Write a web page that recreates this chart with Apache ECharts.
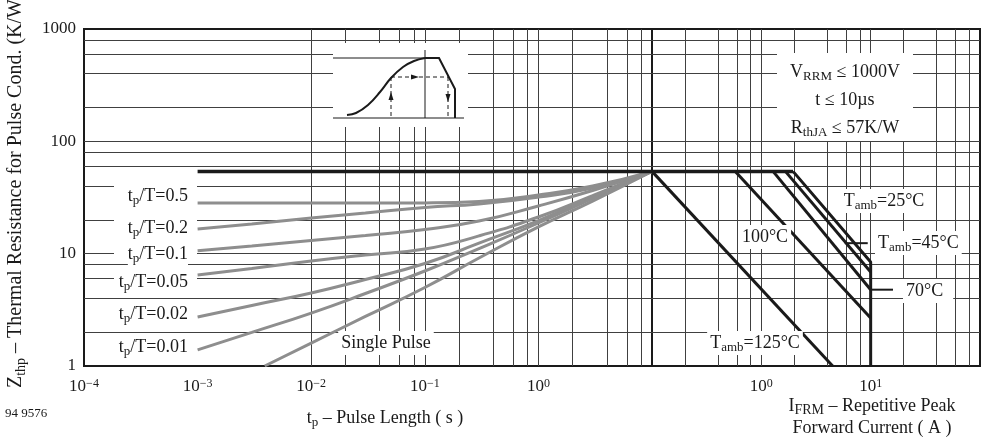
<!DOCTYPE html>
<html>
<head>
<meta charset="utf-8">
<script src="https://cdn.jsdelivr.net/npm/echarts@6/dist/echarts.min.js"></script>
<style>
  html, body { margin: 0; padding: 0; background: #fff; }
  #chart { width: 983px; height: 439px; }
</style>
</head>
<body>
<div id="chart"></div>
<script>
// ---- data ----
// left panel: x = tp (s), y = Zthp (K/W)
var plateauLeft = [[0.001, 54], [10, 54]]
var duty05 = [[0.001, 28.2], [0.003, 28.2], [0.01, 28.2], [0.03, 28.2], [0.1, 28.3], [0.3, 29.1], [1, 33.3], [3, 40.0], [10, 54]]
var duty02 = [[0.001, 16.6], [0.003, 18.4], [0.01, 20.8], [0.03, 23.0], [0.1, 25.8], [0.3, 27.7], [1, 31.9], [3, 38.4], [10, 54]]
var duty01 = [[0.001, 10.6], [0.003, 11.7], [0.01, 13.1], [0.03, 14.5], [0.1, 16.4], [0.3, 19.5], [1, 26.6], [3, 36.5], [10, 54]]
var duty005 = [[0.001, 6.46], [0.003, 7.38], [0.01, 8.6], [0.03, 9.73], [0.1, 11.0], [0.3, 14.4], [1, 21.2], [3, 32.9], [10, 54]]
var duty002 = [[0.001, 2.73], [0.003, 3.46], [0.01, 4.47], [0.03, 5.89], [0.1, 8.17], [0.3, 12.4], [1, 19.7], [3, 31.9], [10, 54]]
var duty001 = [[0.001, 1.39], [0.003, 1.99], [0.01, 2.96], [0.03, 4.42], [0.1, 7.01], [0.3, 11.1], [1, 18.75], [3, 31.0], [10, 54]]
var singlePulse = [[0.0039, 1], [0.01, 1.6], [0.03, 2.76], [0.1, 5.0], [0.3, 9.15], [1, 17.3], [3, 29.4], [10, 54]]

// right panel: x = IFRM (A), y = Zthp (K/W)
var plateauRight = [[0.1, 54], [1.95, 54]]
var tamb25 = [[1.95, 54], [10, 8.43], [10, 1]]
var tamb45 = [[1.66, 54], [10, 6.87]]
var tamb70 = [[1.28, 54], [10, 4.78]]
var tamb100 = [[0.578, 54], [10, 2.67]]
var tamb125 = [[0.1, 54], [4.49, 1]]
var leader45 = [[5.8, 12.4], [9.4, 12.4]]
var leader70 = [[10, 4.78], [16, 4.78]]

// log paper rulings (1, 2, 4, 6, 8 per decade)
var rulingSteps = [1, 2, 4, 6, 8]
var tpDecades = [-4, -3, -2, -1, 0]
var ifrmDecades = [-1, 0, 1]
var zDecades = [0, 1, 2]

function rulings(decades, lo, hi) {
  var res = []
  decades.forEach(function (d) {
    rulingSteps.forEach(function (s) {
      var v = s * Math.pow(10, d)
      if (v > lo * 1.0001 && v < hi * 0.9999) res.push(v)
    })
  })
  return res
}

var FONT = 'Liberation Serif'
var INK = '#1a1a1a'
var GREY = '#8e8e8e'

function expLabel(v) {
  var e = Math.round(Math.log10(v))
  return '10{sup|' + (e < 0 ? '\u2212' + (-e) : e) + '}'
}

var supRich = {
  sup: { fontSize: 12, fontFamily: FONT, color: INK, verticalAlign: 'top', lineHeight: 12 }
}

function gridLines(xs, ys) {
  return {
    silent: true,
    symbol: 'none',
    animation: false,
    label: { show: false },
    emphasis: { disabled: true },
    lineStyle: { color: '#404040', width: 1, type: 'solid' },
    data: xs.map(function (v) { return { xAxis: v } }).concat(ys.map(function (v) { return { yAxis: v } }))
  }
}

function curve(name, data, xi, color, width, smooth) {
  return {
    name: name,
    type: 'line',
    xAxisIndex: xi,
    yAxisIndex: xi,
    data: data,
    symbol: 'none',
    smooth: smooth ? 0.5 : false,
    lineStyle: { color: color, width: width },
    z: 5,
    silent: true
  }
}

function label(text, x, y, align, pad) {
  return {
    type: 'text',
    x: x,
    y: y,
    z: 110,
    style: {
      text: text,
      align: align || 'center',
      verticalAlign: 'middle',
      font: '18px "' + FONT + '"',
      fill: INK,
      backgroundColor: '#fff',
      padding: pad || [1, 3, 1, 3],
      lineHeight: 22,
      rich: {
        sub: { fontSize: 13, fontFamily: FONT, fill: INK, verticalAlign: 'bottom', lineHeight: 13 }
      }
    }
  }
}

function whiteBox(x, y, w, h) {
  return { type: 'rect', z: 100, shape: { x: x, y: y, width: w, height: h }, style: { fill: '#fff' } }
}

function seg(x1, y1, x2, y2, w, dash) {
  return {
    type: 'line', z: 105,
    shape: { x1: x1, y1: y1, x2: x2, y2: y2 },
    style: { stroke: INK, lineWidth: w || 1, lineDash: dash || null }
  }
}

var chart = echarts.init(document.getElementById('chart'))

chart.setOption({
  animation: false,
  textStyle: { fontFamily: FONT, color: INK },
  grid: [
    { left: 84, top: 29, width: 568, height: 337, show: true, borderColor: INK, borderWidth: 2, backgroundColor: 'transparent' },
    { left: 652, top: 29, right: -10, height: 337, show: true, borderColor: INK, borderWidth: 2, backgroundColor: 'transparent' }
  ],
  xAxis: [
    {
      type: 'log', logBase: 10, min: 1e-4, max: 10, gridIndex: 0,
      axisLine: { show: false }, axisTick: { show: false }, splitLine: { show: false },
      axisLabel: {
        margin: 12,
        formatter: function (v) {
          if (Math.round(Math.log10(v)) > 0) return ''
          return expLabel(v)
        },
        fontSize: 17, color: INK, rich: supRich
      }
    },
    {
      type: 'log', logBase: 10, min: 0.1, max: 100, gridIndex: 1,
      axisLine: { show: false }, axisTick: { show: false }, splitLine: { show: false },
      axisLabel: {
        margin: 12,
        formatter: function (v) {
          var e = Math.round(Math.log10(v))
          if (e < 0 || e > 1) return ''
          return expLabel(v)
        },
        fontSize: 17, color: INK, rich: supRich
      }
    }
  ],
  yAxis: [
    {
      type: 'log', logBase: 10, min: 1, max: 1000, gridIndex: 0,
      axisLine: { show: false }, axisTick: { show: false }, splitLine: { show: false },
      axisLabel: { margin: 8, fontSize: 17, color: INK, formatter: function (v) { return String(Math.round(v)) } }
    },
    {
      type: 'log', logBase: 10, min: 1, max: 1000, gridIndex: 1,
      axisLine: { show: false }, axisTick: { show: false }, splitLine: { show: false },
      axisLabel: { show: false }
    }
  ],
  series: [
    {
      type: 'line', xAxisIndex: 0, yAxisIndex: 0, data: [], symbol: 'none', z: 1, silent: true,
      markLine: gridLines(rulings(tpDecades, 1e-4, 10), rulings(zDecades, 1, 1000))
    },
    {
      type: 'line', xAxisIndex: 1, yAxisIndex: 1, data: [], symbol: 'none', z: 1, silent: true,
      markLine: gridLines(rulings(ifrmDecades, 0.1, 100), rulings(zDecades, 1, 1000))
    },
    curve('0.5', duty05, 0, GREY, 3, true),
    curve('0.2', duty02, 0, GREY, 3, true),
    curve('0.1', duty01, 0, GREY, 3, true),
    curve('0.05', duty005, 0, GREY, 3, true),
    curve('0.02', duty002, 0, GREY, 3, true),
    curve('0.01', duty001, 0, GREY, 3, true),
    curve('Single Pulse', singlePulse, 0, GREY, 3, true),
    curve('plateau', plateauLeft, 0, INK, 3.5, false),
    curve('plateauR', plateauRight, 1, INK, 3.5, false),
    curve('25', tamb25, 1, INK, 3, false),
    curve('45', tamb45, 1, INK, 3, false),
    curve('70', tamb70, 1, INK, 3, false),
    curve('100', tamb100, 1, INK, 3, false),
    curve('125', tamb125, 1, INK, 3, false),
    curve('lead45', leader45, 1, INK, 2, false),
    curve('lead70', leader70, 1, INK, 2, false)
  ],
  graphic: [
    // pulse shape inset
    whiteBox(333, 43, 135, 84),
    seg(333, 58, 438, 58, 1),
    seg(333, 118, 464, 118, 1),
    seg(425, 50, 425, 118, 1),
    seg(391, 77, 448, 77, 1, [4, 3]),
    seg(391, 77, 391, 118, 1, [4, 3]),
    seg(448, 77, 448, 118, 1, [4, 3]),
    {
      type: 'polyline', z: 106,
      shape: { points: [[347, 115], [356, 113], [368, 105], [380, 92], [391, 78], [403, 67], [414, 61], [425, 58]], smooth: 0.4 },
      style: { stroke: INK, lineWidth: 2, fill: null }
    },
    {
      type: 'polyline', z: 106,
      shape: { points: [[425, 58], [439, 58], [455, 89], [455, 118]] },
      style: { stroke: INK, lineWidth: 2, fill: null }
    },
    { type: 'polygon', z: 106, shape: { points: [[411, 74.5], [419, 77], [411, 79.5]] }, style: { fill: INK } },
    { type: 'polygon', z: 106, shape: { points: [[388.5, 100], [391, 92], [393.5, 100]] }, style: { fill: INK } },
    { type: 'polygon', z: 106, shape: { points: [[445.5, 94], [448, 102], [450.5, 94]] }, style: { fill: INK } },

    // conditions box
    whiteBox(777, 53, 136, 88),
    label('V{sub|RRM} \u2264 1000V', 845, 72),
    label('t \u2264 10\u00b5s', 845, 100),
    label('R{sub|thJA} \u2264 57K/W', 845, 128),

    // duty cycle labels
    whiteBox(114, 186, 83, 20),
    whiteBox(114, 218, 83, 20),
    whiteBox(114, 244, 83, 20),
    whiteBox(114, 272, 83, 21),
    whiteBox(114, 304, 83, 21),
    whiteBox(114, 337, 83, 21),
    label('t{sub|p}/T=0.5', 188, 196, 'right', [0, 0, 0, 0]),
    label('t{sub|p}/T=0.2', 188, 228, 'right', [0, 0, 0, 0]),
    label('t{sub|p}/T=0.1', 188, 254, 'right', [0, 0, 0, 0]),
    label('t{sub|p}/T=0.05', 188, 282, 'right', [0, 0, 0, 0]),
    label('t{sub|p}/T=0.02', 188, 314, 'right', [0, 0, 0, 0]),
    label('t{sub|p}/T=0.01', 188, 347, 'right', [0, 0, 0, 0]),
    label('Single Pulse', 386, 343),

    // ambient temperature labels
    label('T{sub|amb}=25\u00b0C', 884, 201),
    label('T{sub|amb}=45\u00b0C', 875, 243, 'left'),
    label('100\u00b0C', 765, 237),
    label('70\u00b0C', 903, 291, 'left', [1, 10, 1, 3]),
    label('T{sub|amb}=125\u00b0C', 755, 343),

    // axis titles
    {
      type: 'text', x: 16, y: 388, rotation: Math.PI / 2, z: 110,
      style: {
        text: 'Z{sub|thp} \u2013 Thermal Resistance for Pulse Cond. (K/W)',
        align: 'left', verticalAlign: 'middle',
        font: '20px "' + FONT + '"', fill: INK, lineHeight: 24,
        rich: { sub: { fontSize: 14, fontFamily: FONT, fill: INK, verticalAlign: 'bottom', lineHeight: 14 } }
      }
    },
    {
      type: 'text', x: 385, y: 418, z: 110,
      style: {
        text: 't{sub|p} \u2013 Pulse Length ( s )', align: 'center', verticalAlign: 'middle',
        font: '18px "' + FONT + '"', fill: INK, lineHeight: 22,
        rich: { sub: { fontSize: 13, fontFamily: FONT, fill: INK, verticalAlign: 'bottom', lineHeight: 13 } }
      }
    },
    {
      type: 'text', x: 872, y: 406, z: 110,
      style: {
        text: 'I{sub|FRM} \u2013 Repetitive Peak', align: 'center', verticalAlign: 'middle',
        font: '18px "' + FONT + '"', fill: INK, lineHeight: 22,
        rich: { sub: { fontSize: 14, fontFamily: FONT, fill: INK, verticalAlign: 'bottom', lineHeight: 14 } }
      }
    },
    {
      type: 'text', x: 872, y: 428, z: 110,
      style: { text: 'Forward Current ( A )', align: 'center', verticalAlign: 'middle', font: '18px "' + FONT + '"', fill: INK }
    },
    {
      type: 'text', x: 5, y: 414, z: 110,
      style: { text: '94 9576', align: 'left', verticalAlign: 'middle', font: '13px "' + FONT + '"', fill: INK }
    }
  ]
})
</script>
</body>
</html>
